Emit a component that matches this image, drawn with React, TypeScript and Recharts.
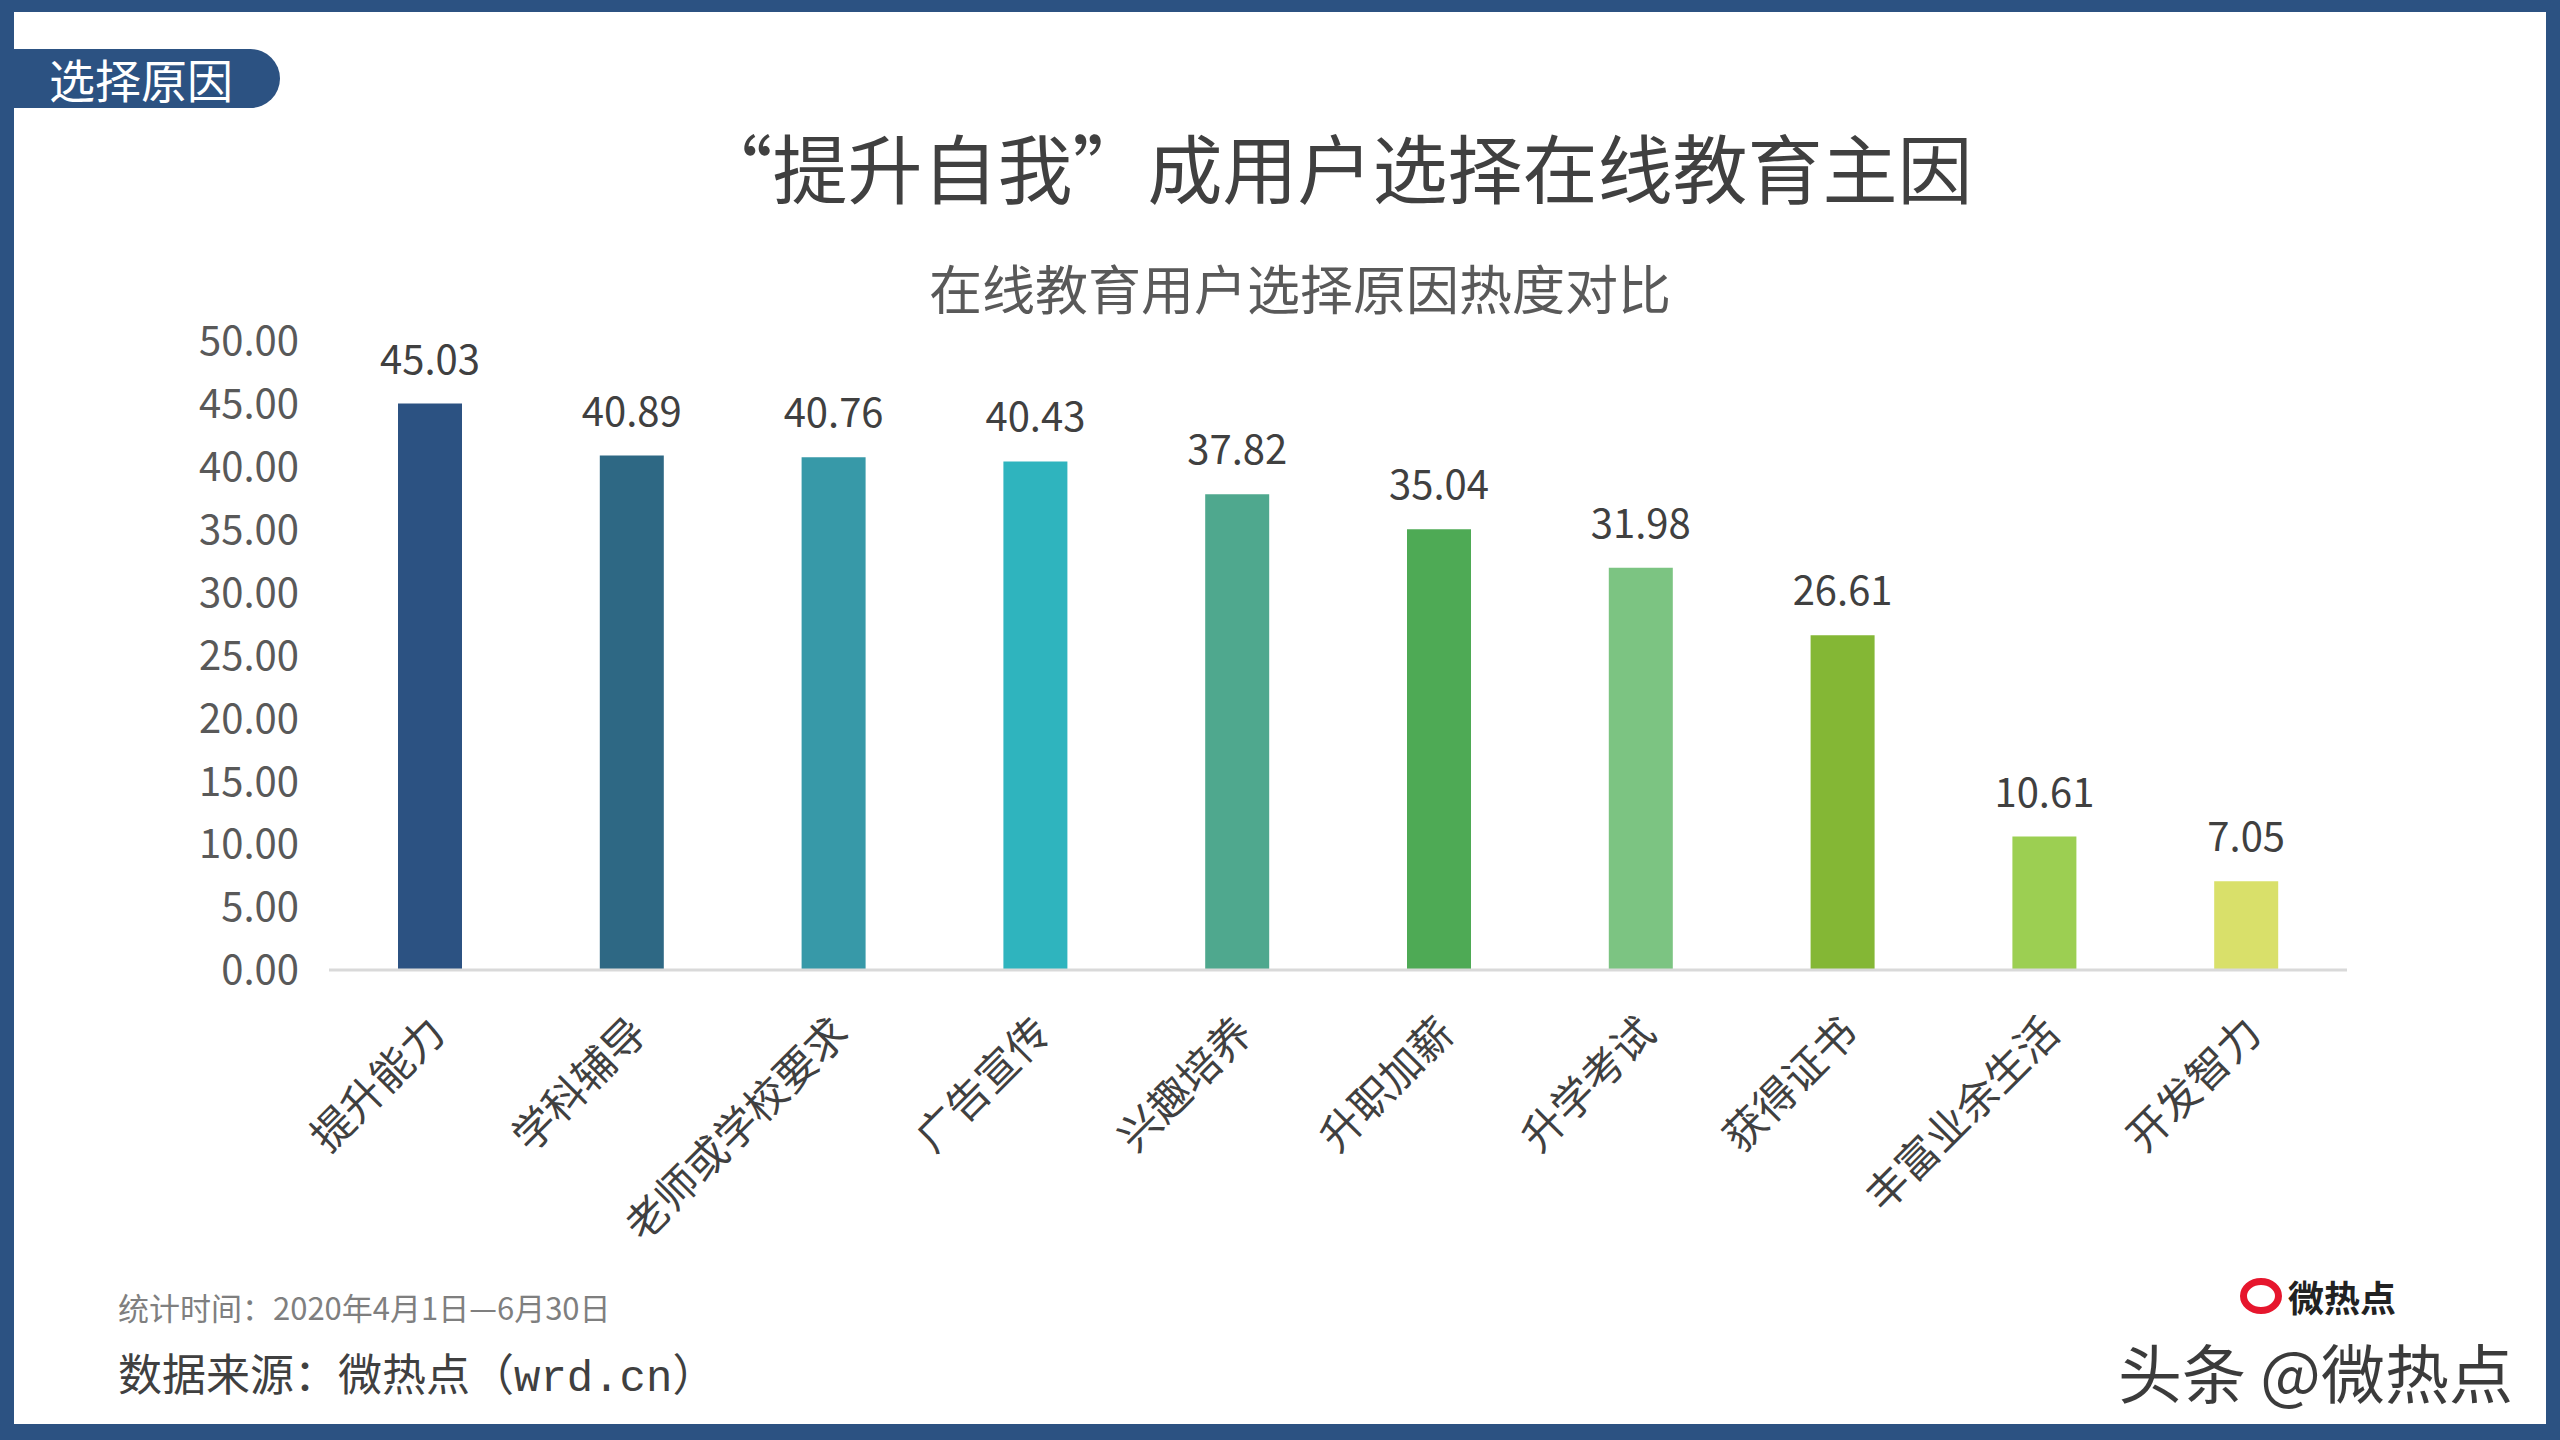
import { BarChart, Bar, XAxis, YAxis, Cell, LabelList } from 'recharts';

const reasons = [
  '提升能力',
  '学科辅导',
  '老师或学校要求',
  '广告宣传',
  '兴趣培养',
  '升职加薪',
  '升学考试',
  '获得证书',
  '丰富业余生活',
  '开发智力',
];
const heat = [45.03, 40.89, 40.76, 40.43, 37.82, 35.04, 31.98, 26.61, 10.61, 7.05];
const barColors = [
  '#2c5282',
  '#2e6884',
  '#3799a8',
  '#2fb4be',
  '#4fa88e',
  '#4eaa55',
  '#7cc482',
  '#84b735',
  '#9ccf52',
  '#d9e06a',
];
const yTicks = [0, 5, 10, 15, 20, 25, 30, 35, 40, 45, 50];

const FONT = '"Noto Sans CJK SC", "Noto Sans", sans-serif';
const FRAME = '#2c5282';

function ReasonTick({ x, y, payload }: any) {
  return (
    <text
      transform={`translate(${x - 8},${y + 32}) rotate(-45)`}
      textAnchor="end"
      dy="0.86em"
      fontSize={42}
      fill="#404040"
      fontFamily={FONT}
    >
      {payload.value}
    </text>
  );
}

export default function App() {
  const data = reasons.map((name, i) => ({ name, value: heat[i] }));

  return (
    <div
      style={{
        position: 'absolute',
        left: 0,
        top: 0,
        width: 2560,
        height: 1440,
        background: '#fff',
        overflow: 'hidden',
        fontFamily: FONT,
      }}
    >
      {/* frame */}
      <div style={{ position: 'absolute', left: 0, top: 0, width: 2560, height: 12, background: FRAME }} />
      <div style={{ position: 'absolute', left: 0, top: 0, width: 14, height: 1440, background: FRAME }} />
      <div style={{ position: 'absolute', right: 0, top: 0, width: 14, height: 1440, background: FRAME }} />
      <div style={{ position: 'absolute', left: 0, bottom: 0, width: 2560, height: 16, background: FRAME }} />

      {/* section tag */}
      <div
        style={{
          position: 'absolute',
          left: 14,
          top: 49,
          width: 266,
          height: 59,
          background: FRAME,
          borderRadius: '0 30px 30px 0',
          color: '#fff',
          fontSize: 46,
          lineHeight: '59px',
          paddingLeft: 35,
          boxSizing: 'border-box',
        }}
      >
        选择原因
      </div>

      <div
        style={{
          position: 'absolute',
          left: 1335,
          top: 165,
          transform: 'translate(-50%, -50%)',
          fontSize: 75,
          lineHeight: 1,
          color: '#404040',
          whiteSpace: 'nowrap',
        }}
      >
        “提升自我”成用户选择在线教育主因
      </div>
      <div
        style={{
          position: 'absolute',
          left: 1300,
          top: 287,
          transform: 'translate(-50%, -50%)',
          fontSize: 53,
          lineHeight: 1,
          color: '#595959',
          whiteSpace: 'nowrap',
        }}
      >
        在线教育用户选择原因热度对比
      </div>

      <div style={{ position: 'absolute', left: 0, top: 300 }}>
        <BarChart
          width={2560}
          height={1000}
          data={data}
          margin={{ top: 41, right: 213, bottom: 80, left: 229 }}
        >
          <XAxis
            dataKey="name"
            interval={0}
            height={250}
            tickLine={false}
            axisLine={{ stroke: '#d9d9d9', strokeWidth: 3 }}
            tick={<ReasonTick />}
          />
          <YAxis
            width={100}
            domain={[0, 50]}
            ticks={yTicks}
            interval={0}
            axisLine={false}
            tickLine={false}
            tickSize={0}
            tickMargin={30}
            tickFormatter={(v: number) => v.toFixed(2)}
            tick={{ fontSize: 40, fill: '#595959', fontFamily: FONT }}
          />
          <Bar dataKey="value" barSize={64} isAnimationActive={false}>
            {data.map((d, i) => (
              <Cell key={d.name} fill={barColors[i]} />
            ))}
            <LabelList
              dataKey="value"
              position="top"
              offset={30}
              formatter={(v: any) => Number(v).toFixed(2)}
              style={{ fontSize: 40, fill: '#404040', fontFamily: FONT }}
            />
          </Bar>
        </BarChart>
      </div>

      {/* footer notes */}
      <div
        style={{
          position: 'absolute',
          left: 118,
          top: 1306,
          transform: 'translateY(-50%)',
          fontSize: 31,
          lineHeight: 1,
          color: '#7f7f7f',
          whiteSpace: 'nowrap',
        }}
      >
        统计时间：2020年4月1日—6月30日
      </div>
      <div
        style={{
          position: 'absolute',
          left: 118,
          top: 1375,
          transform: 'translateY(-50%)',
          fontSize: 44,
          lineHeight: 1,
          color: '#404040',
          whiteSpace: 'nowrap',
        }}
      >
        数据来源：微热点（
        <span style={{ fontFamily: '"Liberation Mono", "DejaVu Sans Mono", monospace' }}>wrd.cn</span>
        ）
      </div>

      {/* watermark */}
      <div
        style={{
          position: 'absolute',
          left: 2240,
          top: 1278,
          display: 'flex',
          alignItems: 'center',
          gap: 6,
        }}
      >
        <div
          style={{
            width: 42,
            height: 36,
            borderRadius: '50%',
            border: '7px solid #e6162d',
            boxSizing: 'border-box',
          }}
        />
        <div style={{ fontSize: 36, fontWeight: 700, color: '#222', lineHeight: 1 }}>微热点</div>
      </div>
      <div
        style={{
          position: 'absolute',
          left: 2118,
          top: 1370,
          transform: 'translateY(-50%)',
          fontSize: 64,
          lineHeight: 1,
          color: '#1a1a1a',
          whiteSpace: 'nowrap',
          opacity: 0.85,
        }}
      >
        头条 @微热点
      </div>
    </div>
  );
}
